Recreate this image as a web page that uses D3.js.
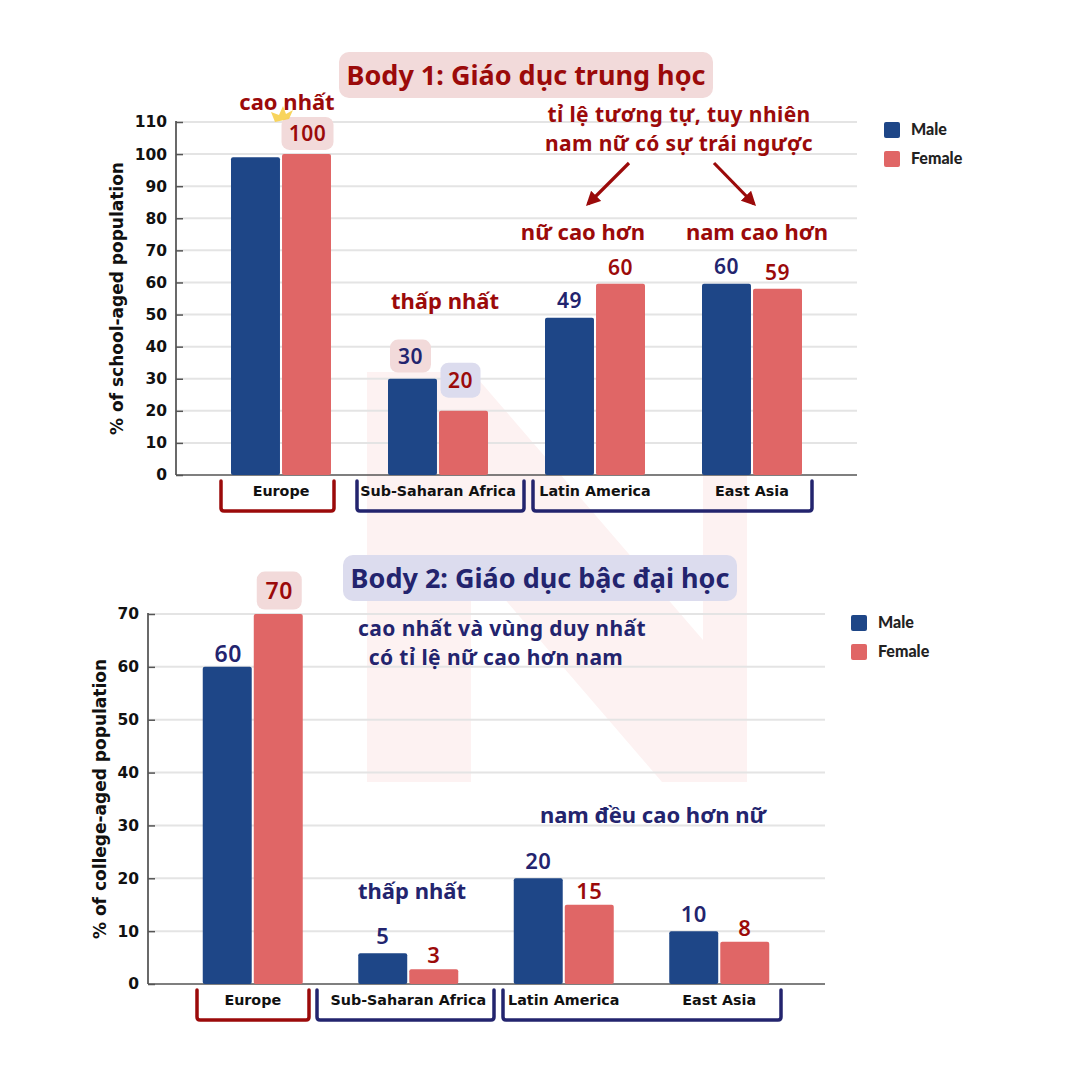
<!DOCTYPE html>
<html><head><meta charset="utf-8">
<script src="https://cdn.jsdelivr.net/npm/d3@7"></script>
<style>
html,body{margin:0;padding:0;background:#fff;}
svg{display:block;}
</style></head>
<body>
<svg id="c" width="1080" height="1080"></svg>
<script>
// ---------- DATA ----------
const categories = ["Europe", "Sub-Saharan Africa", "Latin America", "East Asia"];
const seriesNames = ["Male", "Female"];
const secondaryMale = [99, 30, 49, 59.6];
const secondaryFemale = [100, 20, 59.6, 58];
const secondaryMaleLabels = ["", "30", "49", "60"];
const secondaryFemaleLabels = ["100", "20", "60", "59"];
const secondaryTicks = [0, 10, 20, 30, 40, 50, 60, 70, 80, 90, 100, 110];
const collegeMale = [60, 5.8, 20, 10];
const collegeFemale = [70, 2.8, 15, 8];
const collegeMaleLabels = ["60", "5", "20", "10"];
const collegeFemaleLabels = ["70", "3", "15", "8"];
const collegeTicks = [0, 10, 20, 30, 40, 50, 60, 70];

// ---------- STYLE ----------
const NAVY_BAR = "#1e4687", RED_BAR = "#e06666";
const NAVY_TXT = "#23246e", RED_TXT = "#9b0a0a";
const PINK_BOX = "#f2dada", LAV_BOX = "#dcdcee";
const ANN_FONT = "'Noto Sans', 'Open Sans', sans-serif";
const AX_FONT = "'DejaVu Sans', Verdana, sans-serif";

const svg = d3.select("#c");

// watermark "N"
svg.append("path")
  .attr("d", "M367,372 L472,372 L703,640 L703,372 L747,372 L747,782 L662,782 L471,560 L471,782 L367,782 Z")
  .attr("fill", "#fdf2f2");

function drawChart(cfg) {
  const g = svg.append("g");
  const y = d3.scaleLinear().domain([0, cfg.max]).range([cfg.y0, cfg.yTop]);
  const x = d3.scaleBand().domain(categories).range(cfg.xRange);
  const x1 = d3.scaleBand().domain(seriesNames)
    .range([x.bandwidth() / 2 - 50, x.bandwidth() / 2 + 50]).paddingInner(0.04);

  // grid
  g.append("g").selectAll("line").data(cfg.ticks.filter(t => t > 0)).join("line")
    .attr("x1", cfg.axisX).attr("x2", cfg.gridEnd)
    .attr("y1", d => y(d)).attr("y2", d => y(d))
    .attr("stroke", "#e4e4e4").attr("stroke-width", 2);

  // axis
  const axis = d3.axisLeft(y).tickValues(cfg.ticks).tickSize(-7).tickPadding(14);
  const ax = g.append("g").attr("transform", `translate(${cfg.axisX},0)`).call(axis);
  ax.select(".domain").attr("stroke", "#444").attr("stroke-width", 1.6).attr("d", `M0,${cfg.yTop - 1}V${cfg.y0}`);
  ax.selectAll(".tick line").attr("stroke", "#555").attr("stroke-width", 1.5);
  ax.selectAll(".tick text").attr("font-family", AX_FONT).attr("font-weight", "bold")
    .attr("font-size", 15.5).attr("fill", "#111").attr("x", -9);
  // baseline
  g.append("line").attr("x1", cfg.axisX).attr("x2", cfg.gridEnd)
    .attr("y1", y(0)).attr("y2", y(0)).attr("stroke", "#555").attr("stroke-width", 1.6);

  // y title
  g.append("text")
    .attr("transform", `translate(${cfg.titleX},${(cfg.y0 + cfg.yTop) / 2 + cfg.titleDy}) rotate(-90)`)
    .attr("text-anchor", "middle").attr("font-family", AX_FONT).attr("font-weight", "bold")
    .attr("font-size", 17).attr("fill", "#111").text(cfg.yTitle);

  // bars
  const rows = categories.map((c, i) => ({ c, i, vals: [cfg.male[i], cfg.female[i]] }));
  const grp = g.append("g").selectAll("g").data(rows).join("g")
    .attr("transform", d => `translate(${x(d.c)},0)`);
  grp.selectAll("rect").data(d => d.vals.map((v, k) => ({ s: seriesNames[k], v }))).join("rect")
    .attr("x", d => x1(d.s)).attr("width", x1.bandwidth())
    .attr("y", d => y(d.v)).attr("height", d => y(0) - y(d.v))
    .attr("rx", 2).attr("fill", d => d.s === "Male" ? NAVY_BAR : RED_BAR);

  // category labels
  g.append("g").selectAll("text").data(categories).join("text")
    .attr("x", d => x(d) + x.bandwidth() / 2).attr("y", y(0) + 21)
    .attr("text-anchor", "middle").attr("font-family", AX_FONT).attr("font-weight", "bold")
    .attr("font-size", 14.3).attr("fill", "#111").text(d => d);

  // brackets
  cfg.brackets.forEach(b => {
    const top = y(0) + 6, bot = y(0) + 36;
    g.append("path")
      .attr("d", `M${b[0]},${top} V${bot - 3} Q${b[0]},${bot} ${b[0] + 3},${bot} H${b[1] - 3} Q${b[1]},${bot} ${b[1]},${bot - 3} V${top}`)
      .attr("fill", "none").attr("stroke", b[2]).attr("stroke-width", 3.5).attr("stroke-linecap", "round");
  });

  // legend
  const lg = g.append("g").attr("transform", `translate(${cfg.legend[0]},${cfg.legend[1]})`);
  seriesNames.forEach((s, k) => {
    lg.append("rect").attr("x", 0).attr("y", k * 29).attr("width", 16).attr("height", 16).attr("rx", 2)
      .attr("fill", k === 0 ? NAVY_BAR : RED_BAR);
    lg.append("text").attr("x", 27).attr("y", k * 29 + 13).attr("font-family", "Lato, sans-serif")
      .attr("font-weight", "900").attr("font-size", 16).attr("fill", "#222").text(s);
  });

  return { x, x1, y, g };
}

function label(g, x, y, txt, color, size, box) {
  if (box) {
    g.append("rect").attr("x", x - box[0] / 2).attr("y", y - size * 0.73 - (box[1] - size * 0.73) / 2)
      .attr("width", box[0]).attr("height", box[1]).attr("rx", 8).attr("fill", box[2]);
  }
  g.append("text").attr("x", x).attr("y", y).attr("text-anchor", "middle")
    .attr("font-family", ANN_FONT).attr("font-weight", 600).attr("font-size", size)
    .attr("letter-spacing", 0.5).attr("fill", color).text(txt);
}

// ---------- CHART 1 ----------
const c1 = drawChart({
  max: 110, y0: 475, yTop: 122, ticks: secondaryTicks, axisX: 176, gridEnd: 857,
  xRange: [202.5, 830.5], male: secondaryMale, female: secondaryFemale,
  yTitle: "% of school-aged population", titleX: 123, titleDy: 0,
  brackets: [[221, 334, RED_TXT], [357, 524, NAVY_TXT], [533, 812, NAVY_TXT]],
  legend: [884, 122]
});
// ---------- CHART 2 ----------
const c2 = drawChart({
  max: 70, y0: 984, yTop: 614, ticks: collegeTicks, axisX: 148, gridEnd: 825,
  xRange: [175, 797], male: collegeMale, female: collegeFemale,
  yTitle: "% of college-aged population", titleX: 106, titleDy: 0,
  brackets: [[197, 309, RED_TXT], [317, 494, NAVY_TXT], [503, 781, NAVY_TXT]],
  legend: [851, 615]
});

const ann = svg.append("g");
function barCx(c, cat, s) { return c.x(cat) + c.x1(s) + c.x1.bandwidth() / 2; }

// Titles
function titleBox(cx, cy, w, h, fill, color, txt) {
  ann.append("rect").attr("x", cx - w / 2).attr("y", cy - h / 2).attr("width", w).attr("height", h)
    .attr("rx", 10).attr("fill", fill);
  ann.append("text").attr("x", cx).attr("y", cy + 10).attr("text-anchor", "middle")
    .attr("font-family", ANN_FONT).attr("font-weight", "bold").attr("font-size", 27)
    .attr("fill", color).text(txt);
}
titleBox(526, 75, 374, 46, PINK_BOX, RED_TXT, "Body 1: Giáo dục trung học");
titleBox(540, 578, 394, 46, LAV_BOX, NAVY_TXT, "Body 2: Giáo dục bậc đại học");

// chart 1 value labels
categories.forEach((cat, i) => {
  const mx = barCx(c1, cat, "Male"), fx = barCx(c1, cat, "Female");
  const ml = secondaryMaleLabels[i], fl = secondaryFemaleLabels[i];
  if (cat === "Europe") {
    label(ann, fx + 1, c1.y(secondaryFemale[i]) - 13, fl, RED_TXT, 21, [52, 33, PINK_BOX]);
  } else if (cat === "Sub-Saharan Africa") {
    label(ann, mx - 2, c1.y(secondaryMale[i]) - 15, ml, NAVY_TXT, 21, [41, 33, PINK_BOX]);
    label(ann, fx - 3, c1.y(secondaryFemale[i]) - 23, fl, RED_TXT, 21, [40, 35, LAV_BOX]);
  } else {
    if (ml) label(ann, mx, c1.y(secondaryMale[i]) - 10, ml, NAVY_TXT, 21);
    if (fl) label(ann, fx, c1.y(secondaryFemale[i]) - 9, fl, RED_TXT, 21);
  }
});
// chart 2 value labels
categories.forEach((cat, i) => {
  const mx = barCx(c2, cat, "Male"), fx = barCx(c2, cat, "Female");
  if (cat === "Europe") {
    label(ann, mx + 1, c2.y(collegeMale[i]) - 5, collegeMaleLabels[i], NAVY_TXT, 23);
    label(ann, fx + 1, c2.y(collegeFemale[i]) - 15, collegeFemaleLabels[i], RED_TXT, 23, [45, 38, PINK_BOX]);
  } else {
    label(ann, mx, c2.y(collegeMale[i]) - 9, collegeMaleLabels[i], NAVY_TXT, 22);
    label(ann, fx, c2.y(collegeFemale[i]) - 6, collegeFemaleLabels[i], RED_TXT, 22);
  }
});

// free annotations
function note(x, y, txt, color, size, spacing) {
  ann.append("text").attr("x", x).attr("y", y).attr("text-anchor", "middle")
    .attr("font-family", ANN_FONT).attr("font-weight", "bold").attr("font-size", size || 22)
    .attr("letter-spacing", spacing || 0)
    .attr("fill", color).text(txt);
}
note(287, 110, "cao nhất", RED_TXT);
note(679, 122, "tỉ lệ tương tự, tuy nhiên", RED_TXT, 21, 0.4);
note(679, 151, "nam nữ có sự trái ngược", RED_TXT, 21, 0.4);
note(583, 240, "nữ cao hơn", RED_TXT);
note(757, 240, "nam cao hơn", RED_TXT);
note(445, 309, "thấp nhất", RED_TXT);
note(502, 636, "cao nhất và vùng duy nhất", NAVY_TXT, 21, 0.4);
note(496, 665, "có tỉ lệ nữ cao hơn nam", NAVY_TXT, 21, 0.4);
note(653, 823, "nam đều cao hơn nữ", NAVY_TXT);
note(412, 899, "thấp nhất", NAVY_TXT);

// crown
ann.append("path").attr("d", "M271,112 L275,122 L289,119 L293,110 L286,114 L283,106 L279,115 Z")
  .attr("fill", "#f7cf4a").attr("opacity", 0.9);

// arrows
const defs = svg.append("defs");
defs.append("marker").attr("id", "ah").attr("viewBox", "0 0 10 10").attr("refX", 8).attr("refY", 5)
  .attr("markerWidth", 4.5).attr("markerHeight", 4.5).attr("orient", "auto")
  .append("path").attr("d", "M0,0 L10,5 L0,10 Z").attr("fill", RED_TXT);
[[629, 163, 588, 204], [714, 163, 754, 204]].forEach(a => {
  ann.append("line").attr("x1", a[0]).attr("y1", a[1]).attr("x2", a[2]).attr("y2", a[3])
    .attr("stroke", RED_TXT).attr("stroke-width", 3.2).attr("marker-end", "url(#ah)");
});
</script>
</body></html>
